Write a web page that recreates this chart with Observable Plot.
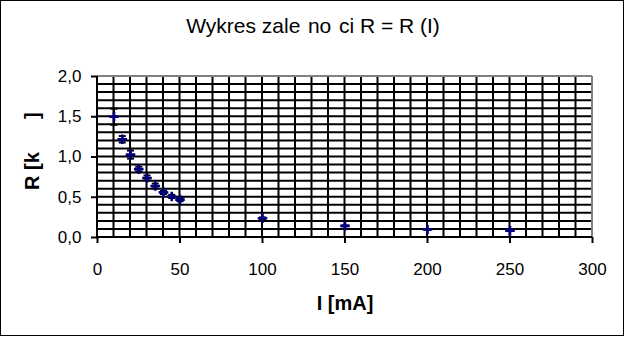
<!DOCTYPE html>
<html>
<head>
<meta charset="utf-8">
<script src="https://cdn.jsdelivr.net/npm/d3@7"></script>
<script src="https://cdn.jsdelivr.net/npm/@observablehq/plot@0.6"></script>
<style>
  html, body { margin: 0; padding: 0; background: white; }
  #wrap { position: relative; width: 625px; height: 337px; }
  #wrap svg { position: absolute; left: 0; top: 0; }
  #border { position: absolute; left: 0; top: 0; width: 622px; height: 334px; border: 1px solid black; pointer-events: none; }
</style>
</head>
<body>
<div id="wrap"><div id="border"></div></div>
<script>
// Data
const currentI = [10, 15, 20, 25, 30, 35, 40, 45, 50, 100, 150, 200, 250];      // I [mA]
const resistR  = [1.50, 1.22, 1.03, 0.85, 0.74, 0.64, 0.56, 0.51, 0.47, 0.24, 0.145, 0.10, 0.085]; // R [kΩ]
const errorR   = [0.10, 0.04, 0.05, 0.03, 0.03, 0.03, 0.02, 0.02, 0.02, 0.01, 0.005, 0.005, 0.005];
const xTicks = [0, 50, 100, 150, 200, 250, 300];
const yTicks = [0, 0.5, 1.0, 1.5, 2.0];
const xGrid = [10,20,30,40,50,60,70,80,90,100,110,120,130,140,150,160,170,180,190,200,210,220,230,240,250,260,270,280,290];
const yGrid = [0.1,0.2,0.3,0.4,0.5,0.6,0.7,0.8,0.9,1.0,1.1,1.2,1.3,1.4,1.5,1.6,1.7,1.8,1.9];
const titleText = "Wykres zale\u00a0\u200ano\u00a0\u200aci R = R (I)";
const xLabel = "I [mA]";
const yLabel = "R [k\u00a0\u00a0\u00a0\u00a0\u00a0\u00a0]";

const data = currentI.map((x, i) => ({x, y: resistR[i], lo: resistR[i] - errorR[i], hi: resistR[i] + errorR[i]}));

const capSymbol = {
  draw(ctx, size) {
    const w = Math.sqrt(size / Math.PI);
    ctx.moveTo(-w, 0);
    ctx.lineTo(w, 0);
  }
};

const font = "'Liberation Sans', Arial, Helvetica, sans-serif";

const chart = Plot.plot({
  width: 625,
  height: 337,
  marginLeft: 97,
  marginRight: 33,
  marginTop: 76,
  marginBottom: 100,
  x: {domain: [0, 300]},
  y: {domain: [0, 2]},
  style: {fontFamily: font, background: "white", overflow: "visible", color: "black"},
  marks: [
    Plot.ruleX(xGrid, {stroke: "black", strokeWidth: 2, dx: -0.5}),
    Plot.ruleY(yGrid, {stroke: "black", strokeWidth: 2, dy: -0.5}),
    Plot.ruleY([2], {stroke: "#808080", strokeWidth: 2, dy: -0.5}),
    Plot.ruleX([300], {stroke: "#808080", strokeWidth: 2, dx: -0.5}),
    Plot.axisY({ticks: yTicks, tickSize: 6, tickPadding: 10, strokeWidth: 2, fontSize: 17, label: null,
      tickFormat: d => d.toFixed(1).replace(".", ",")}),
    Plot.axisX({ticks: xTicks, tickSize: 6, tickPadding: 19, strokeWidth: 2, fontSize: 17, label: null}),
    Plot.ruleX([0], {stroke: "black", strokeWidth: 2, dx: -0.5}),
    Plot.ruleY([0], {stroke: "black", strokeWidth: 2, dy: -0.5}),
    Plot.ruleX(data, {x: "x", y1: "lo", y2: "hi", stroke: "black", strokeWidth: 2}),
    Plot.dot(data, {x: "x", y: "lo", symbol: capSymbol, r: 3.5, stroke: "black", strokeWidth: 2}),
    Plot.dot(data, {x: "x", y: "hi", symbol: capSymbol, r: 3.5, stroke: "black", strokeWidth: 2}),
    Plot.dot(data, {x: "x", y: "y", symbol: "plus", r: 3.2, stroke: "#000080", strokeWidth: 2.6}),
    Plot.text([titleText], {frameAnchor: "top", dx: -32, dy: -58, fontSize: 21, letterSpacing: 0.3, fill: "black"}),
    Plot.text([xLabel], {frameAnchor: "bottom", dy: 72, fontSize: 20, fontWeight: "bold", fill: "black"}),
    Plot.text([yLabel], {frameAnchor: "left", dx: -65, dy: 33, rotate: -90, textAnchor: "start", fontSize: 20, fontWeight: "bold", fill: "black"})
  ]
});

document.getElementById("wrap").prepend(chart);
</script>
</body>
</html>
